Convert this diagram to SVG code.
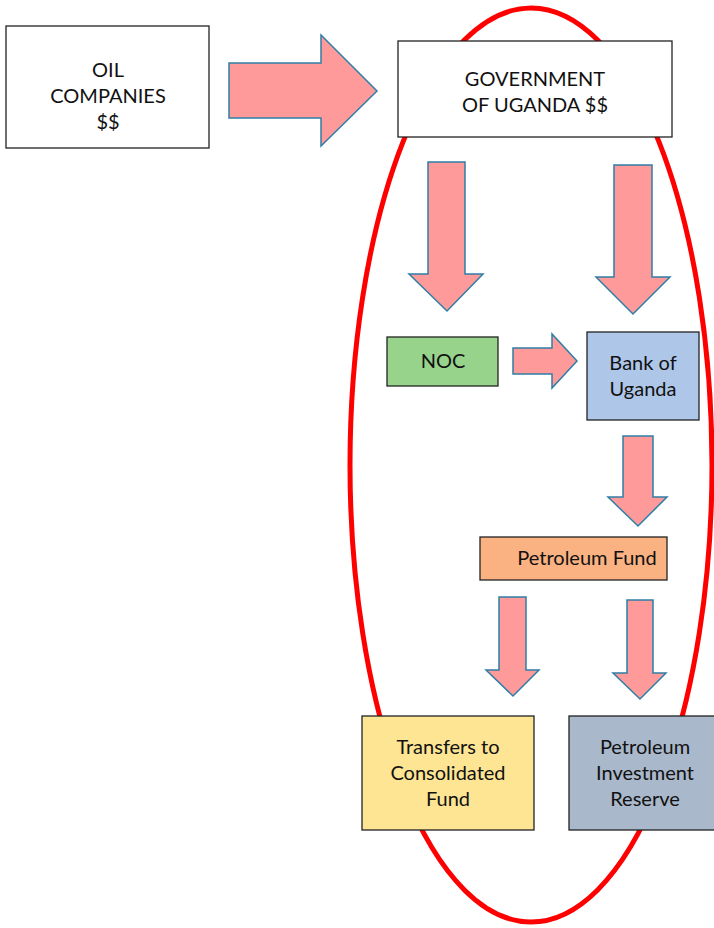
<svg xmlns="http://www.w3.org/2000/svg" width="714" height="928" viewBox="0 0 714 928">
<style>
.box{stroke:#222;stroke-width:1.3}
.arr{fill:#fe9a9a;stroke:#2f7ea6;stroke-width:1.5;stroke-linejoin:miter}
text{font-family:Lato,"Open Sans","Liberation Sans",sans-serif;font-size:20px;fill:#111;text-anchor:middle}
</style>
<rect width="714" height="928" fill="#fff"/>
<ellipse id="boundary" cx="531" cy="465" rx="181" ry="457" fill="none" stroke="#ff0000" stroke-width="5"/>
<g id="connectors">
<polygon class="arr" points="229,63 321,63 321,35 377,91 321,146 321,118 229,118"/>
<polygon class="arr" points="428,162 465,162 465,274 483,274 447,311 409,274 428,274"/>
<polygon class="arr" points="614,165 652,165 652,277 670,277 633,314 596,277 614,277"/>
<polygon class="arr" points="513,348 552,348 552,334 577,361 552,388 552,374 513,374"/>
<polygon class="arr" points="623,436 653,436 653,497 667,497 638,526 608,497 623,497"/>
<polygon class="arr" points="499,597 526,597 526,670 539,670 513,696 486,670 499,670"/>
<polygon class="arr" points="627,600 653,600 653,673 666,673 640,699 613,673 627,673"/>
</g>
<g id="oil">
<rect class="box" x="6" y="26" width="203" height="122" fill="#fff"/>
<text x="108" y="77">OIL</text>
<text x="108" y="103">COMPANIES</text>
<text x="108" y="129">$$</text>
</g>
<g id="gov">
<rect class="box" x="398" y="41" width="274" height="96" fill="#fff"/>
<text x="535" y="86">GOVERNMENT</text>
<text x="535" y="112">OF UGANDA $$</text>
</g>
<g id="noc">
<rect class="box" x="387" y="337" width="111" height="49" fill="#97d38b"/>
<text x="443" y="368">NOC</text>
</g>
<g id="bou">
<rect class="box" x="587" y="332" width="112" height="88" fill="#aec6e8"/>
<text x="643" y="370">Bank of</text>
<text x="643" y="396">Uganda</text>
</g>
<g id="pf">
<rect class="box" x="480" y="537" width="187" height="43" fill="#fbb282"/>
<text x="587" y="565">Petroleum Fund</text>
</g>
<g id="tcf">
<rect class="box" x="362" y="716" width="172" height="114" fill="#fde594"/>
<text x="448" y="754">Transfers to</text>
<text x="448" y="780">Consolidated</text>
<text x="448" y="806">Fund</text>
</g>
<g id="pir">
<rect class="box" x="569" y="716" width="150" height="114" fill="#a9b8cb"/>
<text x="645" y="754">Petroleum</text>
<text x="645" y="780">Investment</text>
<text x="645" y="806">Reserve</text>
</g>
</svg>
